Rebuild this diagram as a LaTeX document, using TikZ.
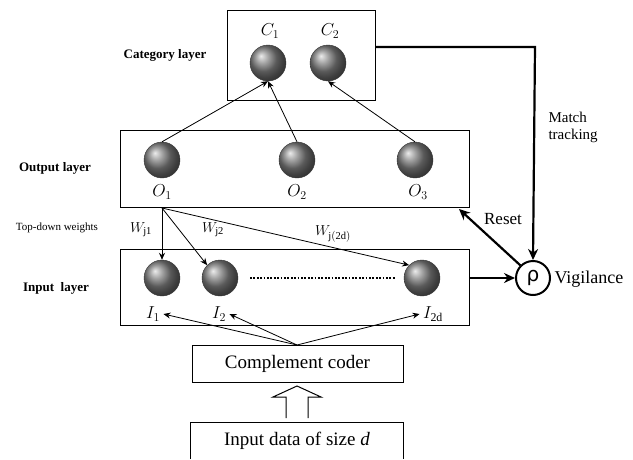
\documentclass[tikz,border=0pt]{standalone}
\usepackage{fontspec}
\setmainfont{Liberation Serif}
\newfontfamily\rhofont{DejaVu Sans}
\usetikzlibrary{arrows.meta}
\begin{document}
\begin{tikzpicture}[x=1pt,y=-1pt,
  neuron/.style={circle,minimum size=36pt,inner sep=0pt,shading=ball,ball color=black!50,draw=black!80,line width=0.4pt},
  layerbox/.style={draw,line width=0.8pt},
  lab/.style={font=\fontsize{13}{15}\selectfont\bfseries},
  var/.style={font=\fontsize{17}{19}\selectfont},
  wlab/.style={font=\fontsize{15}{17}\selectfont},
  thin arrow/.style={-{Stealth[length=7pt,width=6pt]},line width=0.8pt},
  thick arrow/.style={-{Stealth[length=11pt,width=10pt]},line width=2.2pt}]
\useasboundingbox (0,0) rectangle (633,459);
% boxes
\node[layerbox,minimum width=148pt,minimum height=90pt,inner sep=0pt] (cat) at (301,55) {};
\node[layerbox,minimum width=349pt,minimum height=77pt,inner sep=0pt] (out) at (294.5,168.5) {};
\node[layerbox,minimum width=349pt,minimum height=76pt,inner sep=0pt] (inp) at (294.5,287) {};
\node[layerbox,minimum width=211pt,minimum height=37pt,inner sep=0pt,font=\fontsize{19}{21}\selectfont] (cc) at (297.5,363.5) {Complement coder};
\draw[line width=0.8pt] (190,459) |- (403,422) -- (403,459);
\node[font=\fontsize{19}{21}\selectfont] (data) at (297,441) {Input data of size \textit{d}};
% layer labels
\node[lab] (catlab) at (165,55) {Category layer};
\node[lab] (outlab) at (55,168) {Output layer};
\node[lab] (inplab) at (56,288) {Input\ \ layer};
\node[font=\fontsize{11}{13}\selectfont] (tdw) at (57,228) {Top-down weights};
% neurons
\node[neuron] (c1) at (268,63) {};
\node[neuron] (c2) at (328,63) {};
\node[neuron] (o1) at (162,160) {};
\node[neuron] (o2) at (297,160) {};
\node[neuron] (o3) at (415,160) {};
\node[neuron] (i1) at (162,278) {};
\node[neuron] (i2) at (220,278) {};
\node[neuron] (i3) at (422,278) {};
% neuron labels
\node[var] (c1l) at (270,31) {$C_1$};
\node[var] (c2l) at (330,31) {$C_2$};
\node[var] (o1l) at (162,192) {$O_1$};
\node[var] (o2l) at (297,192) {$O_2$};
\node[var] (o3l) at (418,192) {$O_3$};
\node[var] (i1l) at (153,314) {$I_1$};
\node[var] (i2l) at (219,314) {$I_2$};
\node[var] (i3l) at (433,314) {$I_{\mathrm{2d}}$};
% dotted line
\coordinate (dl) at (250,278);
\coordinate (dr) at (395,278);
\draw[line width=2.2pt,dash pattern=on 1.8pt off 1.6pt] (dl) -- (dr);
% bottom-up to category
\draw[thin arrow] (o1.north) -- (c1.south);
\draw[thin arrow] (o2.north) -- (c1.south);
\draw[thin arrow] (o3.north) -- (c2.south);
% top-down weights
\coordinate (tdo) at (162,208);
\draw[thin arrow] (tdo) -- (i1.north);
\draw[thin arrow] (tdo) -- (i2.north west);
\draw[thin arrow] (tdo) -- (i3.north west);
\node[wlab] (w1) at (141,230) {$W_{\mathrm{j1}}$};
\node[wlab] (w2) at (213,230) {$W_{\mathrm{j2}}$};
\node[wlab] (w3) at (333,234) {$W_{\mathrm{j(2d)}}$};
% complement coder to inputs
\coordinate (cct) at (297,345);
\draw[thin arrow] (cct) -- (i1l.east);
\draw[thin arrow] (cct) -- (i2l.east);
\draw[thin arrow] (cct) -- (i3l.west);
% hollow arrow
\draw[line width=1pt,fill=white,line join=miter] (286,418) -- (286,397) -- (273,397) -- (297,386) -- (321,397) -- (308,397) -- (308,418);
% vigilance
\node[circle,draw,line width=2pt,minimum size=34pt,inner sep=0pt,font=\rhofont\fontsize{20}{22}\selectfont] (rho) at (533,278) {ρ};
\node[font=\rmfamily\fontsize{18}{20}\selectfont,anchor=west] (vig) at (551,279) {Vigilance};
\draw[thick arrow] (inp.east|-rho) -- (rho.west);
\coordinate (mt) at (535,47);
\draw[thick arrow] (cat.east|-mt) -- (mt) -- (rho.north);
\node[font=\fontsize{15}{17}\selectfont,align=left,anchor=west] (mtl) at (545,127) {Match\\tracking};
\draw[thick arrow] (rho.north west) -- (459,209);
\node[font=\fontsize{17}{19}\selectfont] (reset) at (503,219) {Reset};
\end{tikzpicture}
\end{document}
